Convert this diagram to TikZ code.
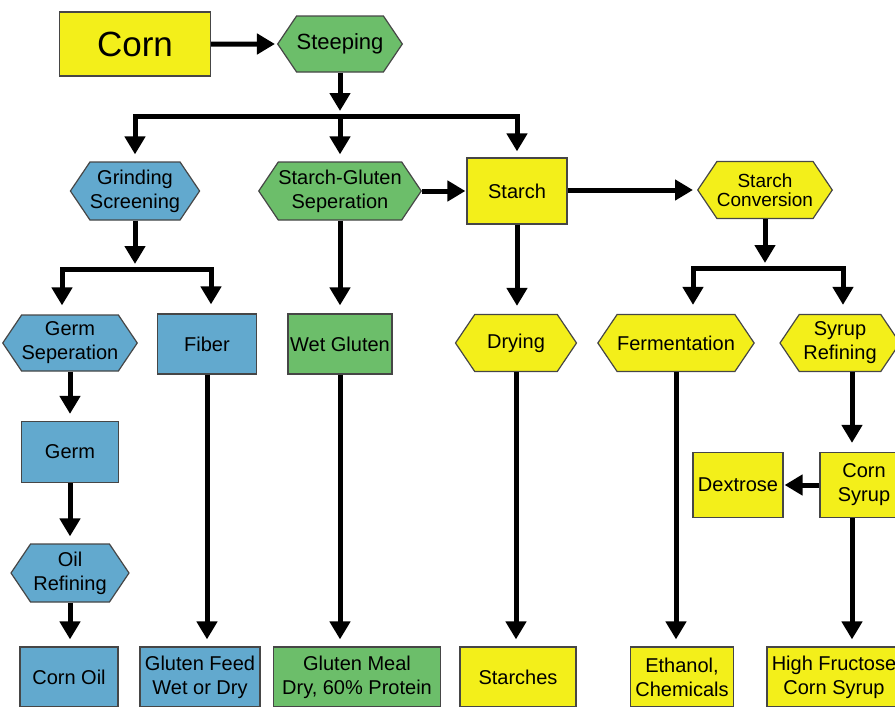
\documentclass[tikz,border=0pt]{standalone}
\usepackage{fontspec}
\setmainfont{Liberation Sans}
\usetikzlibrary{shapes.symbols, positioning, calc, arrows.meta}

\definecolor{procyellow}{RGB}{243,239,26}
\definecolor{procgreen}{RGB}{108,190,106}
\definecolor{procblue}{RGB}{98,169,206}
\definecolor{edgegray}{RGB}{70,70,70}

\tikzset{
  flowbox/.style={draw=edgegray, line width=1.2pt, rectangle, inner sep=0pt,
    align=center, font=\fontsize{20}{24}\selectfont},
  flowhex/.style={flowbox, signal, signal to=east and west, signal pointer angle=112},
  arr/.style={line width=5pt, -{Triangle[length=18pt,width=20pt]}, shorten >=7pt},
}

\begin{document}
\begin{tikzpicture}[x=1pt, y=-1pt]
    \path[use as bounding box, clip] (0,0) rectangle (895,707);

    % Top row
    \node[flowbox, fill=procyellow, minimum width=151pt, minimum height=64pt,
          font=\fontsize{35}{40}\selectfont] (corn) at (135,44) {Corn};
    \node[flowhex, fill=procgreen, minimum width=120pt, minimum height=56pt,
          font=\fontsize{22}{26}\selectfont] (steep) at (340,44) {Steeping};

    % Second row
    \node[flowhex, fill=procblue, minimum width=121pt, minimum height=58pt] (grind) at (135,191) {Grinding\\Screening};
    \node[flowhex, fill=procgreen, minimum width=158pt, minimum height=58pt] (sgsep) at (340,191) {Starch-Gluten\\Seperation};
    \node[flowbox, fill=procyellow, minimum width=100pt, minimum height=66pt] (starch) at (517,191) {Starch};
    \node[flowhex, fill=procyellow, minimum width=121pt, minimum height=57pt,
          font=\fontsize{19}{18.5}\selectfont] (sconv) at (765,190) {Starch\\Conversion};

    % Third row
    \node[flowhex, fill=procblue, minimum width=116pt, minimum height=56pt] (germsep) at (70,343) {Germ\\Seperation};
    \node[flowbox, fill=procblue, minimum width=99pt, minimum height=60pt] (fiber) at (207,344) {Fiber};
    \node[flowbox, fill=procgreen, minimum width=104pt, minimum height=60pt] (wetgl) at (340,344) {Wet Gluten};
    \node[flowhex, fill=procyellow, minimum width=121pt, minimum height=57pt] (drying) at (516,343) {Drying};
    \node[flowhex, fill=procyellow, minimum width=152pt, minimum height=57pt] (ferment) at (676,343) {Fermentation};
    \node[flowhex, fill=procyellow, minimum width=120pt, minimum height=57pt] (syrupref) at (840,343) {Syrup\\Refining};

    % Germ column and corn syrup row
    \node[flowbox, fill=procblue, minimum width=97pt, minimum height=61pt] (germ) at (70,452) {Germ};
    \node[flowhex, fill=procblue, minimum width=118pt, minimum height=58pt] (oilref) at (70,573) {Oil\\Refining};
    \node[flowbox, fill=procyellow, minimum width=90pt, minimum height=65pt] (dextrose) at (738,485) {Dextrose};
    \node[flowbox, fill=procyellow, minimum width=88pt, minimum height=65pt] (cornsyrup) at (864,485) {Corn\\Syrup};

    % Bottom row
    \node[flowbox, fill=procblue, minimum width=98pt, minimum height=60pt] (cornoil) at (69,677) {Corn Oil};
    \node[flowbox, fill=procblue, minimum width=120pt, minimum height=60pt] (glfeed) at (200,677) {Gluten Feed\\Wet or Dry};
    \node[flowbox, fill=procgreen, minimum width=167pt, minimum height=60pt] (glmeal) at (357,677) {Gluten Meal\\Dry, 60\% Protein};
    \node[flowbox, fill=procyellow, minimum width=116pt, minimum height=60pt] (starches) at (518,677) {Starches};
    \node[flowbox, fill=procyellow, minimum width=103pt, minimum height=60pt] (ethanol) at (682,677) {Ethanol,\\Chemicals};
    \node[flowbox, fill=procyellow, minimum width=134pt, minimum height=60pt] (hfcs) at (834,677) {High Fructose\\Corn Syrup};

    % Junctions of the split lines
    \coordinate (j1) at (340,116);
    \coordinate (j2) at (135,269);
    \coordinate (j3) at (765,268);
    \coordinate (csx) at (852,0);

    % Steeping split
    \draw[arr, shorten >=2pt] (corn) -- (steep);
    \draw[arr, shorten >=5pt] (steep.south) -- (j1);
    \draw[arr] (j1) -| (grind.north);
    \draw[arr] (j1) -- (sgsep.north);
    \draw[arr, shorten >=6pt] (j1) -| (starch.north);
    \draw[arr, shorten >=1pt] (sgsep.east) -- (starch.west);
    \draw[arr, shorten >=4pt] (starch.east |- sconv.west) -- (sconv.west);

    % Grinding split
    \draw[arr, shorten >=5pt] (grind.south) -- (j2);
    \draw[arr, shorten >=9pt] (j2) -| ([xshift=-8pt]germsep.north);
    \draw[arr, shorten >=9pt] (j2) -| ([xshift=4pt]fiber.north);
    \draw[arr] (germsep.south) -- (germ.north);
    \draw[arr] (germ.south) -- (oilref.north);
    \draw[arr] (oilref.south) -- (cornoil.north -| oilref.south);
    \draw[arr] (fiber.south) -- (fiber.south |- glfeed.north);

    % Gluten and starch columns
    \draw[arr, shorten >=8pt] (sgsep.south) -- (wetgl.north);
    \draw[arr] (wetgl.south) -- (wetgl.south |- glmeal.north);
    \draw[arr, shorten >=8pt] (starch.south) -- (starch.south |- drying.north);
    \draw[arr] (drying.south) -- (drying.south |- starches.north);

    % Starch conversion split
    \draw[arr, shorten >=5pt] (sconv.south) -- (j3);
    \draw[arr, shorten >=9pt] (j3) -| ([xshift=17pt]ferment.north);
    \draw[arr, shorten >=9pt] (j3) -| ([xshift=3pt]syrupref.north);
    \draw[arr] (ferment.south) -- (ferment.south |- ethanol.north);
    \draw[arr, shorten >=9pt] (syrupref.south -| csx) -- (cornsyrup.north -| csx);
    \draw[arr, shorten >=1pt] (cornsyrup.west) -- (dextrose.east);
    \draw[arr] (cornsyrup.south -| csx) -- (hfcs.north -| csx);

\end{tikzpicture}
\end{document}
